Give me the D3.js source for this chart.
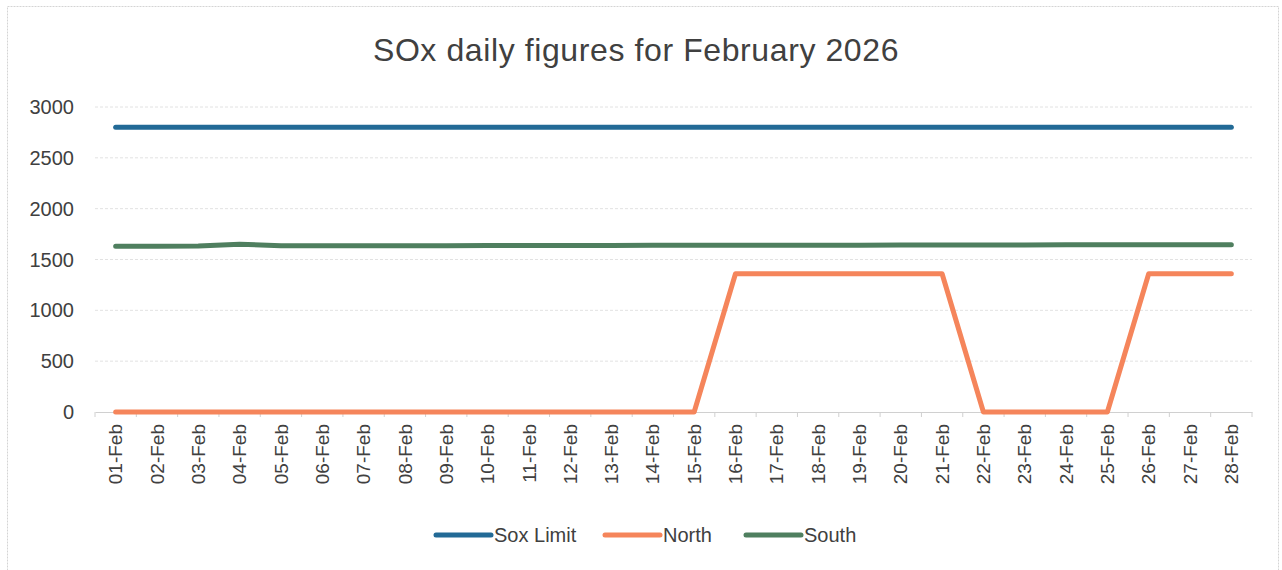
<!DOCTYPE html>
<html>
<head>
<meta charset="utf-8">
<script src="https://cdn.jsdelivr.net/npm/d3@7"></script>
<style>
  body { margin: 0; background: #fff; }
  svg text { font-family: "Liberation Sans", Arial, sans-serif; }
</style>
</head>
<body>
<svg id="chart" width="1282" height="570"></svg>
<script>
// data
const days = ["01-Feb","02-Feb","03-Feb","04-Feb","05-Feb","06-Feb","07-Feb","08-Feb","09-Feb","10-Feb",
  "11-Feb","12-Feb","13-Feb","14-Feb","15-Feb","16-Feb","17-Feb","18-Feb","19-Feb","20-Feb",
  "21-Feb","22-Feb","23-Feb","24-Feb","25-Feb","26-Feb","27-Feb","28-Feb"]
const soxLimit = [2800,2800,2800,2800,2800,2800,2800,2800,2800,2800,2800,2800,2800,2800,2800,
  2800,2800,2800,2800,2800,2800,2800,2800,2800,2800,2800,2800,2800]
const north = [0,0,0,0,0,0,0,0,0,0,0,0,0,0,0,1360,1360,1360,1360,1360,1360,0,0,0,0,1360,1360,1360]
const south = [1630,1630,1632,1650,1635,1635,1635,1636,1636,1637,1637,1638,1638,1639,1639,
  1640,1640,1641,1641,1642,1642,1643,1643,1644,1644,1645,1645,1645]
const yTicks = [0,500,1000,1500,2000,2500,3000]

const seriesNames = ["Sox Limit","North","South"]
const seriesColors = ["#226a96","#f5855b","#4f7f5f"]
const allSeries = [soxLimit, north, south]

var svg = d3.select("#chart")
var margin = {left: 95, right: 30, top: 107, bottom: 158}
var W = 1282, H = 570

// outer frame
svg.append("rect").attr("x", 7.5).attr("y", 6.5).attr("width", 1271).attr("height", 580)
  .attr("fill", "none").attr("stroke", "#d4d4d4").attr("stroke-dasharray", "2,1")

svg.append("text").attr("x", 636).attr("y", 61).attr("text-anchor", "middle")
  .style("font-size", "32px").style("letter-spacing", "0.6px").attr("fill", "#404040")
  .text("SOx daily figures for February 2026")

var x = d3.scaleBand().domain(days).range([margin.left, W - margin.right])
var y = d3.scaleLinear().domain([0, 3000]).range([412, 107])

// gridlines
svg.append("g").selectAll("line").data(yTicks.filter(d => d > 0)).join("line")
  .attr("x1", margin.left).attr("x2", W - margin.right)
  .attr("y1", d => y(d)).attr("y2", d => y(d))
  .attr("stroke", "#e2e2e2").attr("stroke-width", 1).attr("stroke-dasharray", "3,2")

// y labels
svg.append("g").selectAll("text").data(yTicks).join("text")
  .attr("x", 74).attr("y", d => y(d) + 7).attr("text-anchor", "end")
  .style("font-size", "20px").attr("fill", "#404040").text(d => d)

// x axis
var xAxis = d3.axisBottom(x).tickSize(0).tickPadding(0)
var gx = svg.append("g").attr("transform", "translate(0," + y(0) + ")").call(xAxis)
gx.select(".domain").attr("stroke", "#d0d0d0")
gx.selectAll(".tick text")
  .attr("transform", "rotate(-90)").attr("text-anchor", "end")
  .attr("x", -12).attr("y", 0).attr("dy", "0.35em")
  .style("font-size", "19px").attr("fill", "#404040")
// tick marks between categories
gx.append("g").selectAll("line").data(days.concat(["end"])).join("line")
  .attr("x1", (d, i) => margin.left + i * x.step()).attr("x2", (d, i) => margin.left + i * x.step())
  .attr("y1", 0).attr("y2", 5).attr("stroke", "#d0d0d0")

// lines
var line = d3.line().x((d, i) => x(days[i]) + x.bandwidth() / 2).y(d => y(d))
allSeries.forEach(function (s, k) {
  svg.append("path").datum(s).attr("d", line)
    .attr("fill", "none").attr("stroke", seriesColors[k]).attr("stroke-width", 5)
    .attr("stroke-linecap", "round").attr("stroke-linejoin", "round")
})

// legend
var legX = [436, 605, 746]
var leg = svg.append("g")
seriesNames.forEach(function (n, k) {
  leg.append("line").attr("x1", legX[k]).attr("x2", legX[k] + 55).attr("y1", 535).attr("y2", 535)
    .attr("stroke", seriesColors[k]).attr("stroke-width", 5).attr("stroke-linecap", "round")
  leg.append("text").attr("x", legX[k] + 58).attr("y", 542).style("font-size", "20px")
    .attr("fill", "#404040").text(n)
})
</script>
</body>
</html>
